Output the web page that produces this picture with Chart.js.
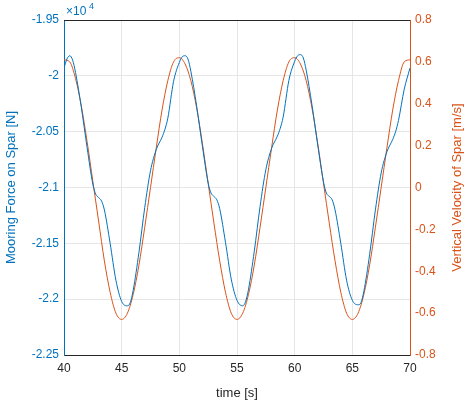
<!DOCTYPE html>
<html><head><meta charset="utf-8">
<script src="https://cdn.jsdelivr.net/npm/chart.js@4"></script>
<style>html,body{margin:0;padding:0;background:#fff}#w{width:474px;height:405px}</style>
</head><body><div id="w"><canvas id="c"></canvas></div>
<script>
const forceTime = [40,40.25,40.5,40.75,41,41.5,42,42.5,42.75,43,43.25,43.5,44,44.5,45,45.5,45.75,46,46.5,47,47.5,48,48.5,48.75,49,49.5,
50,50.25,50.5,50.75,51,51.5,52,52.5,52.75,53,53.25,53.5,54,54.5,55,55.5,55.75,56,56.5,57,57.5,58,58.5,58.75,59,59.5,
60,60.25,60.5,60.75,61,61.5,62,62.5,62.75,63,63.25,63.5,64,64.5,65,65.5,65.75,66,66.5,67,67.5,68,68.5,68.75,69,69.5,70];
const forceValues = [-1.993,-1.985,-1.982,-1.986,-1.997,-2.028,-2.064,-2.097,-2.106,-2.109,-2.112,-2.12,-2.15,-2.183,-2.202,-2.206,-2.203,-2.192,-2.158,-2.118,-2.085,-2.066,-2.055,-2.048,-2.038,-2.005,
-1.988,-1.983,-1.982,-1.985,-1.996,-2.027,-2.063,-2.096,-2.105,-2.108,-2.111,-2.119,-2.149,-2.182,-2.201,-2.206,-2.202,-2.191,-2.157,-2.117,-2.084,-2.065,-2.054,-2.047,-2.037,-2.004,
-1.987,-1.982,-1.981,-1.984,-1.995,-2.026,-2.062,-2.095,-2.105,-2.108,-2.111,-2.12,-2.15,-2.183,-2.201,-2.205,-2.203,-2.193,-2.16,-2.12,-2.087,-2.068,-2.057,-2.05,-2.04,-2.012,-1.993];
const velTime = [40,40.5,41,41.5,42,42.5,43,43.5,44,44.5,45,45.5,46,46.5,47,47.5,48,48.5,49,49.5,
50,50.5,51,51.5,52,52.5,53,53.5,54,54.5,55,55.5,56,56.5,57,57.5,58,58.5,59,59.5,
60,60.5,61,61.5,62,62.5,63,63.5,64,64.5,65,65.5,66,66.5,67,67.5,68,68.5,69,69.5,70];
const velValues = [0.61,0.60,0.52,0.39,0.22,0.03,-0.16,-0.35,-0.50,-0.60,-0.63,-0.60,-0.51,-0.37,-0.19,0.0,0.19,0.37,0.51,0.60,
0.62,0.59,0.51,0.38,0.21,0.02,-0.17,-0.35,-0.50,-0.60,-0.63,-0.60,-0.51,-0.37,-0.19,0.0,0.19,0.37,0.51,0.60,
0.62,0.59,0.51,0.38,0.21,0.02,-0.17,-0.35,-0.50,-0.60,-0.63,-0.60,-0.51,-0.37,-0.19,0.0,0.19,0.37,0.51,0.60,0.61];
const xTicks = [40,45,50,55,60,65,70];
const leftTicks = [-2.25,-2.2,-2.15,-2.1,-2.05,-2,-1.95];
const rightTicks = [-0.8,-0.6,-0.4,-0.2,0,0.2,0.4,0.6,0.8];
const BLUE='#0072BD', ORANGE='#D95319', FONT='"Liberation Sans", Arial, sans-serif';

const frame = {id:'frame', afterDraw(ch){
  const {ctx, chartArea:a} = ch;
  ctx.save();
  ctx.strokeStyle='#262626'; ctx.lineWidth=1;
  ctx.beginPath(); ctx.moveTo(a.left,a.top+0.5); ctx.lineTo(a.right,a.top+0.5); ctx.stroke();
  ctx.fillStyle=BLUE; ctx.font='12px '+FONT; ctx.textBaseline='alphabetic';
  ctx.fillText('\u00d710', a.left+2, a.top-5);
  ctx.font='9px '+FONT; ctx.fillText('4', a.left+25, a.top-11);
  ctx.fillStyle=ORANGE; ctx.font='13px '+FONT; ctx.textAlign='center'; ctx.textBaseline='middle';
  ctx.translate(457,(a.top+a.bottom)/2); ctx.rotate(-Math.PI/2);
  ctx.fillText('Vertical Velocity of Spar [m/s]',0,0);
  ctx.restore();
}};
new Chart(document.getElementById('c'), {
  type:'line',
  data:{datasets:[
    {data:forceTime.map((t,i)=>({x:t,y:forceValues[i]})), borderColor:BLUE, borderWidth:1, pointRadius:0, cubicInterpolationMode:'monotone', yAxisID:'y'},
    {data:velTime.map((t,i)=>({x:t,y:velValues[i]})), borderColor:ORANGE, borderWidth:1, pointRadius:0, cubicInterpolationMode:'monotone', yAxisID:'y1'}
  ]},
  options:{responsive:true, maintainAspectRatio:false, animation:false,
    layout:{padding:{top:20,left:0,right:0,bottom:0}},
    plugins:{legend:{display:false}, tooltip:{enabled:false}},
    scales:{
      x:{type:'linear', min:40, max:70,
        afterBuildTicks(s){s.ticks=xTicks.map(v=>({value:v}));},
        afterFit(s){s.height=50;},
        ticks:{color:'#262626', font:{family:FONT,size:12}, maxRotation:0, padding:6},
        grid:{color:'#e6e6e6', drawTicks:false}, border:{color:'#262626'},
        title:{display:true, text:'time [s]', color:'#262626', font:{family:FONT,size:13}, padding:{top:0}}},
      y:{position:'left', min:-2.25, max:-1.95,
        afterBuildTicks(s){s.ticks=leftTicks.map(v=>({value:v}));},
        afterFit(s){s.width=64;},
        ticks:{color:BLUE, font:{family:FONT,size:12}, padding:5, callback:v=>String(+v.toFixed(2))},
        grid:{color:'#e6e6e6', drawTicks:false}, border:{color:BLUE},
        title:{display:true, text:'Mooring Force on Spar [N]', color:BLUE, font:{family:FONT,size:13}, padding:{top:4,bottom:0}}},
      y1:{position:'right', min:-0.8, max:0.8,
        afterBuildTicks(s){s.ticks=rightTicks.map(v=>({value:v}));},
        afterFit(s){s.width=64;},
        ticks:{color:ORANGE, font:{family:FONT,size:12}, padding:5, callback:v=>String(+v.toFixed(1))},
        grid:{display:false, drawTicks:false}, border:{color:ORANGE},
        title:{display:false}}
    }
  },
  plugins:[frame]
});
</script></body></html>
